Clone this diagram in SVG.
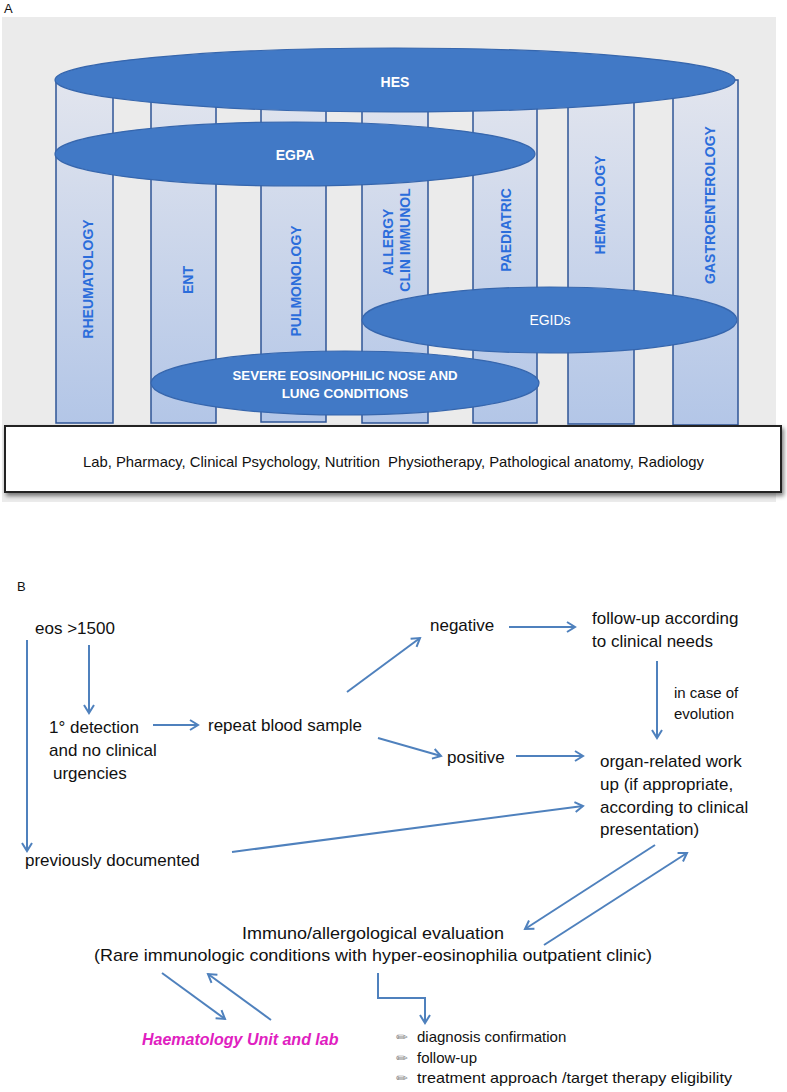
<svg xmlns="http://www.w3.org/2000/svg" width="787" height="1092" viewBox="0 0 787 1092">
<style>
.lbl{font-family:"Liberation Sans",Arial,sans-serif;font-size:13px;fill:#111}
.col{fill:url(#colg);stroke:#2f5597;stroke-width:1.5}
.ell{fill:#4179c6;stroke:#3666ad;stroke-width:1.2}
.et{font-family:"Liberation Sans",Arial,sans-serif;font-weight:bold;fill:#fff;text-anchor:middle}
.etn{font-family:"Liberation Sans",Arial,sans-serif;font-weight:normal;fill:#fff;text-anchor:middle}
.ct{font-family:"Liberation Sans",Arial,sans-serif;font-weight:bold;font-size:14px;fill:#2b6ddb;text-anchor:middle}
.t{font-family:"Liberation Sans",Arial,sans-serif;font-size:17px;fill:#111}
.ts{font-family:"Liberation Sans",Arial,sans-serif;font-size:15px;fill:#111}
.pen{font-family:"DejaVu Sans",sans-serif;font-size:14px;fill:#8a8a8a}
.cn{fill:none;stroke:#4f81bd;stroke-width:2}
.ar{marker-end:url(#ah)}
</style>
<defs>
<linearGradient id="colg" x1="0" y1="0" x2="0" y2="1">
<stop offset="0" stop-color="#e2e5ee"/>
<stop offset="1" stop-color="#b3c6e7"/>
</linearGradient>
<filter id="sh" x="-5%" y="-20%" width="110%" height="150%">
<feDropShadow dx="2" dy="3" stdDeviation="2" flood-color="#000" flood-opacity="0.5"/>
</filter>
<marker id="ah" markerUnits="userSpaceOnUse" markerWidth="14" markerHeight="14" refX="11" refY="7" orient="auto">
<path d="M3,2 L11,7 L3,12" fill="none" stroke="#4f81bd" stroke-width="2"/>
</marker>
</defs>

<text class="lbl" x="4" y="13">A</text>
<rect x="2" y="17" width="774" height="485" fill="#ebebeb"/>

<g id="columns">
<g id="col-rheumatology"><rect class="col" x="56" y="80" width="57" height="343"/><text class="ct" transform="translate(88,279) rotate(-90)" dy="5">RHEUMATOLOGY</text></g>
<g id="col-ent"><rect class="col" x="151" y="80" width="65" height="343"/><text class="ct" transform="translate(188,280) rotate(-90)" dy="5">ENT</text></g>
<g id="col-pulmonology"><rect class="col" x="261" y="80" width="65" height="342"/><text class="ct" transform="translate(296,281) rotate(-90)" dy="5">PULMONOLOGY</text></g>
<g id="col-allergy"><rect class="col" x="362" y="80" width="66" height="343"/><text class="ct" transform="translate(388,242) rotate(-90)" dy="5">ALLERGY</text><text class="ct" transform="translate(405,240) rotate(-90)" dy="5">CLIN IMMUNOL</text></g>
<g id="col-paediatric"><rect class="col" x="473" y="80" width="64" height="343"/><text class="ct" transform="translate(506,230) rotate(-90)" dy="5">PAEDIATRIC</text></g>
<g id="col-hematology"><rect class="col" x="568" y="80" width="66" height="344"/><text class="ct" transform="translate(600,205) rotate(-90)" dy="5">HEMATOLOGY</text></g>
<g id="col-gastroenterology"><rect class="col" x="673" y="80" width="65" height="345"/><text class="ct" transform="translate(710,205) rotate(-90)" dy="5">GASTROENTEROLOGY</text></g>
</g>

<g id="hes"><ellipse class="ell" cx="395" cy="80" rx="340" ry="32"/><text class="et" x="395" y="87" font-size="14">HES</text></g>
<g id="egpa"><ellipse class="ell" cx="295" cy="154" rx="240" ry="32"/><text class="et" x="295" y="160" font-size="14">EGPA</text></g>
<g id="egids"><ellipse class="ell" cx="549.5" cy="320" rx="187.5" ry="33"/><text class="etn" x="550" y="325" font-size="14">EGIDs</text></g>
<g id="severe"><ellipse class="ell" cx="345" cy="383" rx="194" ry="32"/><text class="et" x="345" y="380" font-size="13.5" textLength="225" lengthAdjust="spacingAndGlyphs">SEVERE EOSINOPHILIC NOSE AND</text><text class="et" x="345" y="398" font-size="13.5">LUNG CONDITIONS</text></g>

<g id="services"><rect x="5" y="426" width="776" height="66" fill="#fff" stroke="#222" stroke-width="2" filter="url(#sh)"/><text class="ts" x="83" y="467" textLength="621" lengthAdjust="spacingAndGlyphs">Lab, Pharmacy, Clinical Psychology, Nutrition&#160; Physiotherapy, Pathological anatomy, Radiology</text></g>

<text class="lbl" x="17" y="591">B</text>

<g id="connectors">
<path class="cn ar" d="M27,640 V851"/>
<path class="cn ar" d="M89,645 V713"/>
<path class="cn ar" d="M153,725 H198"/>
<path class="cn ar" d="M347,692 L420,638"/>
<path class="cn ar" d="M509,627 H575"/>
<path class="cn ar" d="M657,661 V738"/>
<path class="cn ar" d="M378,738 L441,756"/>
<path class="cn ar" d="M516,756 H583"/>
<path class="cn ar" d="M232,852 L583,806"/>
<path class="cn ar" d="M655,845 L525,929"/>
<path class="cn ar" d="M544,945 L687,853"/>
<path class="cn ar" d="M162,973 L225,1019"/>
<path class="cn ar" d="M271,1020 L208,974"/>
<path class="cn ar" d="M378,973 V998 H425 V1023"/>
</g>

<g id="eos"><text class="t" x="35" y="634">eos &gt;1500</text></g>
<g id="first-detection"><text class="t" x="49" y="733">1° detection</text><text class="t" x="49" y="756">and no clinical</text><text class="t" x="53" y="779">urgencies</text></g>
<g id="repeat"><text class="t" x="208" y="731">repeat blood sample</text></g>
<g id="negative"><text class="t" x="430" y="631">negative</text></g>
<g id="follow-up"><text class="t" x="592" y="624">follow-up according</text><text class="t" x="592" y="647">to clinical needs</text></g>
<g id="evolution-label"><text class="ts" x="674" y="698">in case of</text><text class="ts" x="674" y="719">evolution</text></g>
<g id="positive"><text class="t" x="447" y="763">positive</text></g>
<g id="organ"><text class="t" x="600" y="767">organ-related work</text><text class="t" x="600" y="790">up (if appropriate,</text><text class="t" x="600" y="813">according to clinical</text><text class="t" x="600" y="835">presentation)</text></g>
<g id="previously"><text class="t" x="25" y="866">previously documented</text></g>
<g id="immuno"><text class="t" x="373" y="939" text-anchor="middle" textLength="262" lengthAdjust="spacingAndGlyphs">Immuno/allergological evaluation</text><text class="t" x="373" y="961" text-anchor="middle" textLength="558" lengthAdjust="spacingAndGlyphs">(Rare immunologic conditions with hyper-eosinophilia outpatient clinic)</text></g>
<g id="haematology"><text x="142" y="1045" font-family="Liberation Sans, Arial, sans-serif" font-size="16" font-weight="bold" font-style="italic" fill="#e020c0">Haematology Unit and lab</text></g>
<g id="outcomes">
<text class="pen" x="396" y="1042">✏</text><text class="ts" x="417" y="1042">diagnosis confirmation</text>
<text class="pen" x="396" y="1063">✏</text><text class="ts" x="417" y="1063">follow-up</text>
<text class="pen" x="396" y="1083">✏</text><text class="ts" x="417" y="1083" textLength="315" lengthAdjust="spacingAndGlyphs">treatment approach /target therapy eligibility</text>
</g>
</svg>
